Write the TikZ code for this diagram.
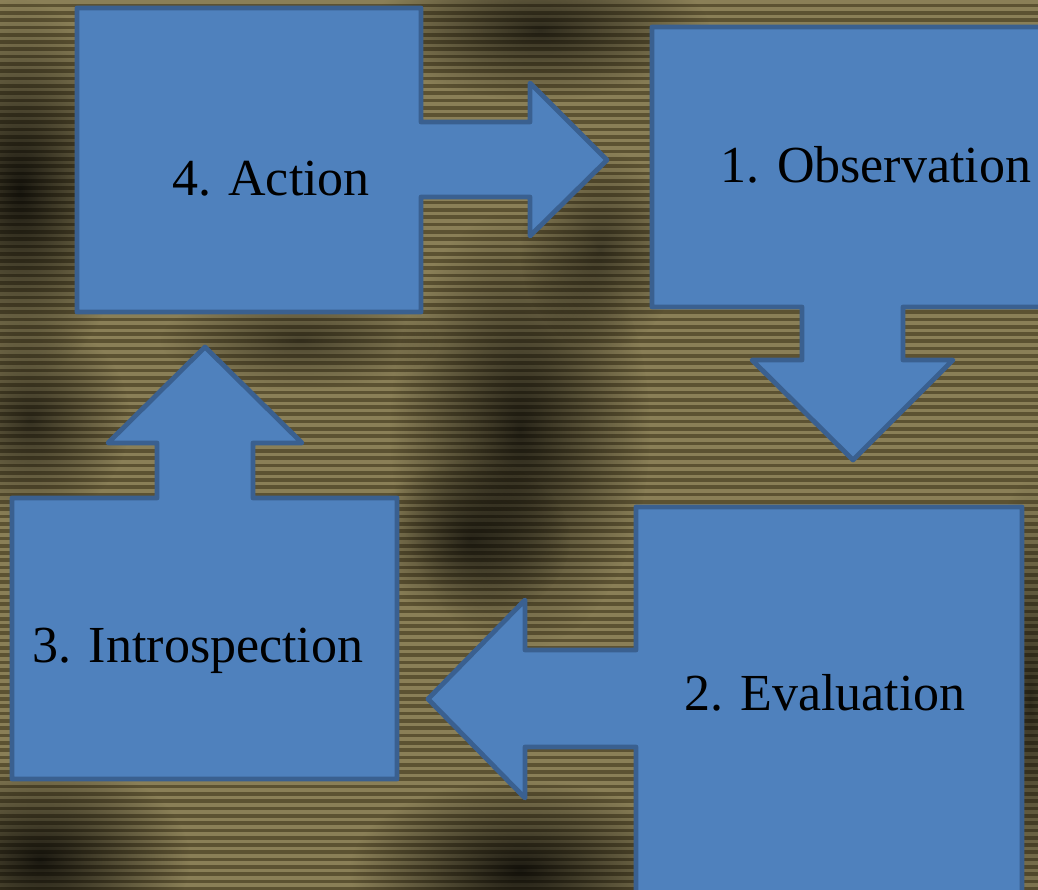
\documentclass[tikz,border=0pt]{standalone}
\usepackage{fontspec}
\setmainfont{Liberation Serif}
\usetikzlibrary{fadings}
\tikzfading[name=softblob, inner color=transparent!0, outer color=transparent!100]
\definecolor{bglight}{HTML}{8A7F57}
\definecolor{bgdark}{HTML}{5C5232}
\definecolor{boxfill}{HTML}{4F81BD}
\definecolor{boxline}{HTML}{3A6090}
\tikzset{
  callout/.style={fill=boxfill, draw=boxline, line width=4.8pt, line join=round},
  label/.style={anchor=base, inner sep=0pt, font=\fontsize{52}{60}\selectfont, text=black},
  blob/.style={fill=black, path fading=softblob}
}
\begin{document}
\begin{tikzpicture}[x=1pt,y=-1pt]
\useasboundingbox (0,0) rectangle (1038,889);
\clip (0,0) rectangle (1038,889);
% background
\fill[bglight] (0,0) rectangle (1038,889);
\foreach \i in {0,...,122} {
  \fill[bgdark] (0,{\i*7.3+3.6}) rectangle (1038,{\i*7.3+7.3});
}
% dark blotches
\fill[blob, opacity=0.8] (20,190) ellipse (110 and 190);
\fill[blob, opacity=0.6] (30,420) ellipse (100 and 100);
\fill[blob, opacity=0.65] (540,30) ellipse (170 and 70);
\fill[blob, opacity=0.7] (520,430) ellipse (130 and 220);
\fill[blob, opacity=0.6] (470,540) ellipse (100 and 80);
\fill[blob, opacity=0.8] (40,860) ellipse (150 and 100);
\fill[blob, opacity=0.8] (520,870) ellipse (170 and 90);
\fill[blob, opacity=0.6] (1030,700) ellipse (50 and 220);
\fill[blob, opacity=0.5] (600,250) ellipse (80 and 100);
\fill[blob, opacity=0.45] (300,340) ellipse (140 and 50);
% shapes
\draw[callout] (77,8) -- (421,8) -- (421,122) -- (530,122) -- (530,83) -- (607,160)
  -- (530,236) -- (530,197) -- (421,197) -- (421,312) -- (77,312) -- cycle;
\draw[callout] (652,27) -- (1050,27) -- (1050,307) -- (903,307) -- (903,360) -- (953,360)
  -- (853,460) -- (752,360) -- (802,360) -- (802,307) -- (652,307) -- cycle;
\draw[callout] (636,507) -- (1022,507) -- (1022,900) -- (636,900) -- (636,747) -- (525,747)
  -- (525,798) -- (428,699) -- (525,600) -- (525,650) -- (636,650) -- cycle;
\draw[callout] (12,498) -- (157,498) -- (157,443) -- (108,443) -- (205,347) -- (302,443)
  -- (253,443) -- (253,498) -- (397,498) -- (397,779) -- (12,779) -- cycle;
% labels
\node[label] (action) at (271,195) {4. Action};
\node[label] (observation) at (876,182) {1. Observation};
\node[label] (evaluation) at (825,710) {2. Evaluation};
\node[label] (introspection) at (198,662) {3. Introspection};
\end{tikzpicture}
\end{document}
